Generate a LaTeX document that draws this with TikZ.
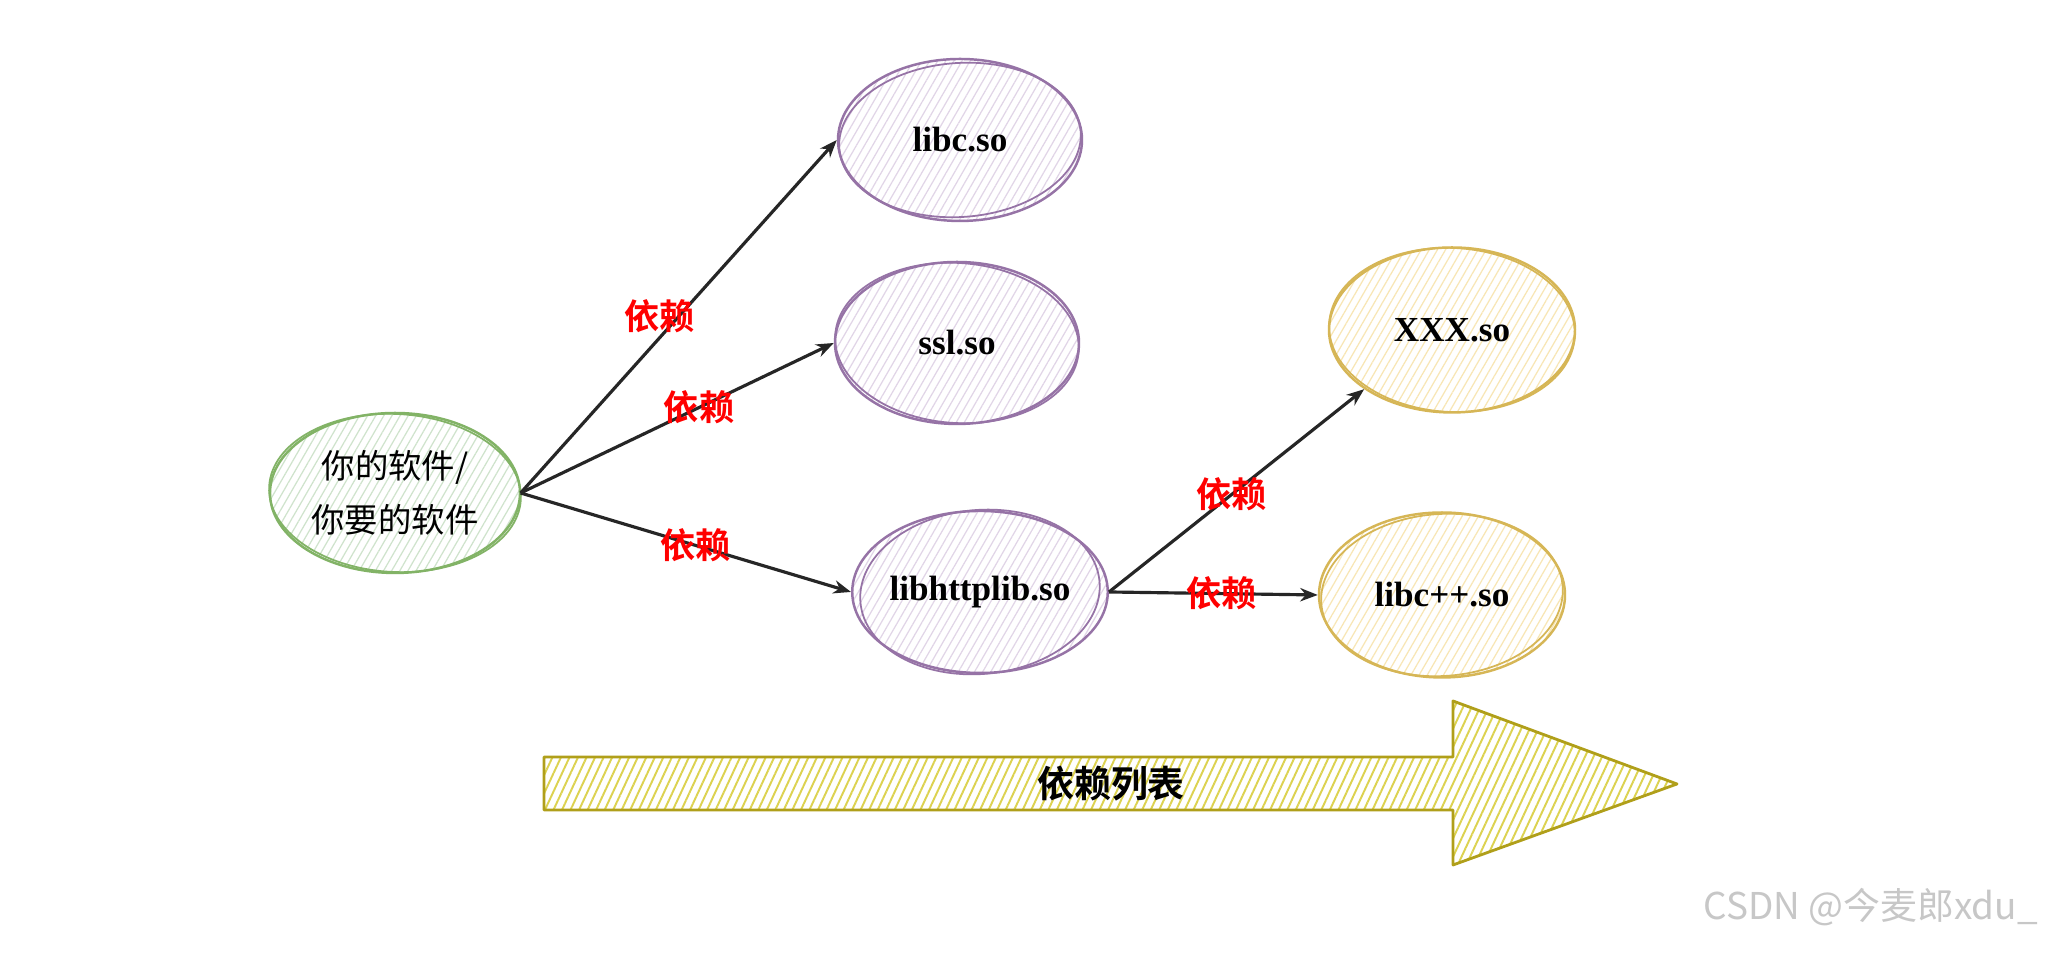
\documentclass[tikz,border=0pt]{standalone}
\usepackage{fontspec}
\newfontfamily\cjk{Noto Sans CJK SC}[BoldFont={Noto Sans CJK SC Bold}]
\newfontfamily\libfont{Liberation Serif}
\usepackage{tikz}
\usetikzlibrary{
  shapes.geometric,arrows.meta,positioning,patterns.meta
}

\definecolor{softline}{HTML}{82B366}
\definecolor{softhatch}{HTML}{CFE3CC}
\definecolor{libline}{HTML}{9673A6}
\definecolor{libhatch}{HTML}{E1D5E7}
\definecolor{extline}{HTML}{D6B656}
\definecolor{exthatch}{HTML}{F8E6B4}
\definecolor{listline}{HTML}{B09F1A}
\definecolor{listhatch}{HTML}{DCD250}

\begin{document}
\begin{tikzpicture}[
  blob/.style={
    ellipse, draw, line width=0.7pt, inner sep=0pt,
    minimum width=2.44cm, minimum height=1.62cm,
    font=\libfont\bfseries\fontsize{10}{12}\selectfont
  },
  softblob/.style={blob, draw=softline, pattern color=softhatch,
    pattern={Lines[angle=60,distance=2pt,line width=0.35pt]},
    minimum width=2.5cm, minimum height=1.6cm, align=center,
    font=\cjk\fontsize{9.5}{15.5}\selectfont},
  libblob/.style={blob, draw=libline, pattern color=libhatch,
    pattern={Lines[angle=60,distance=2pt,line width=0.35pt]}},
  extblob/.style={blob, draw=extline, pattern color=exthatch,
    pattern={Lines[angle=60,distance=2pt,line width=0.35pt]},
    minimum width=2.46cm, minimum height=1.65cm},
  dep/.style={-{Stealth[open,length=5pt,width=3.8pt]}, line width=0.9pt, black!85},
  deplbl/.style={font=\cjk\bfseries\fontsize{10}{12}\selectfont, text=red, inner sep=1pt},
]
\useasboundingbox (0,0) rectangle (20.55,9.54);
\fill[white] (0,0) rectangle (20.55,9.54);

% software and its libraries
\node[softblob] (soft) at (3.95,4.61) {你的软件/\\你要的软件};
\node[libblob] (libc) at (9.60,8.14) {libc.so};
\node[libblob] (ssl) at (9.57,6.11) {ssl.so};
\node[libblob] (httplib) at (9.80,3.62) {libhttplib.so};
\node[extblob] (xxx) at (14.52,6.24) {XXX.so};
\node[extblob] (libcpp) at (14.42,3.59) {libc++.so};

% second sketch stroke round each blob
\foreach \n/\c/\rx/\ry/\a in {soft/softline/1.26/0.79/-3,libc/libline/1.21/0.77/4,
  ssl/libline/1.22/0.80/-4,httplib/libline/1.20/0.82/5,
  xxx/extline/1.23/0.82/-3,libcpp/extline/1.21/0.81/4}{
  \draw[\c, line width=0.5pt, rotate=\a] (\n.center) ellipse [x radius=\rx, y radius=\ry];
}

% dependencies
\draw[dep] (soft.east) -- node[deplbl, xshift=-0.19cm] (d1) {依赖} (libc.west);
\draw[dep] (soft.east) -- node[deplbl, pos=0.57] (d2) {依赖} (ssl.west);
\draw[dep] (soft.east) -- node[deplbl, pos=0.53] (d3) {依赖} (httplib.west);
\draw[dep] (httplib.east) -- node[deplbl, pos=0.48] (d4) {依赖} (xxx.south west);
\draw[dep] (httplib.east) -- node[deplbl, pos=0.54] (d5) {依赖} (libcpp.west);

% big arrow for the list
\draw[listline, line width=0.8pt, line join=round, pattern color=listhatch,
  pattern={Lines[angle=65,distance=2.2pt,line width=0.55pt]}]
  (5.44,1.44) -- (14.53,1.44) -- (14.53,0.89) -- (16.77,1.70)
  -- (14.53,2.53) -- (14.53,1.97) -- (5.44,1.97) -- cycle;
\node[font=\cjk\bfseries\fontsize{10.5}{12}\selectfont] (list) at (11.11,1.70) {依赖列表};

\node[font=\cjk\fontsize{10.5}{12}\selectfont, text=black!22, anchor=east]
  (mark) at (20.50,0.47) {CSDN @今麦郎xdu\_};
\end{tikzpicture}
\end{document}
